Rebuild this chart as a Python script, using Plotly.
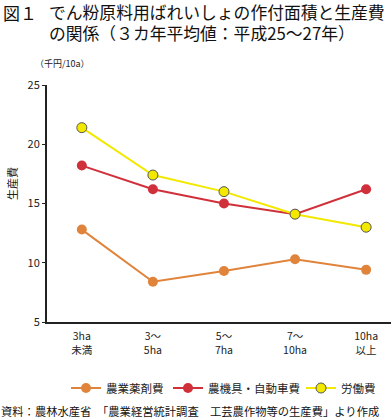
import plotly.graph_objects as go

categories = ["3ha<br>未満", "3～<br>5ha", "5～<br>7ha", "7～<br>10ha", "10ha<br>以上"]
pesticide = [12.8, 8.4, 9.3, 10.3, 9.4]
machinery = [18.2, 16.2, 15.0, 14.1, 16.2]
labor = [21.4, 17.4, 16.0, 14.1, 13.0]

FONT = "Noto Sans CJK JP"
xs = list(range(len(categories)))

# plot area in pixels
L, R, T, B = 47, 391, 85, 322
def px(x):
    return (x - L) / (R - L)
def py(y):
    return (B - y) / (B - T)

fig = go.Figure()
fig.add_trace(go.Scatter(x=xs, y=pesticide, name="農業薬剤費", mode="lines+markers",
                         line=dict(color="#E0843C", width=2),
                         marker=dict(color="#E0843C", size=10), legend="legend"))
fig.add_trace(go.Scatter(x=xs, y=machinery, name="農機具・自動車費", mode="lines+markers",
                         line=dict(color="#D0303A", width=2),
                         marker=dict(color="#D0303A", size=10), legend="legend2"))
fig.add_trace(go.Scatter(x=xs, y=labor, name="労働費", mode="lines+markers",
                         line=dict(color="#F2E800", width=2),
                         marker=dict(color="#F2E800", size=10, line=dict(color="#555555", width=1)),
                         legend="legend3"))

def leg(text_x):
    return dict(orientation="h", x=px(text_x - 41), xanchor="left", y=py(388), yanchor="middle",
                font=dict(size=11.5, family=FONT, color="#222222"), itemwidth=30,
                bgcolor="rgba(0,0,0,0)", borderwidth=0)

fig.update_layout(
    width=391, height=418,
    margin=dict(l=L, r=391 - R, t=T, b=418 - B),
    paper_bgcolor="white", plot_bgcolor="white",
    font=dict(family=FONT, color="#222222", size=11),
    showlegend=True,
    legend=leg(107), legend2=leg(209), legend3=leg(342),
    xaxis=dict(range=[-0.49, 4.35], tickvals=xs, ticktext=categories,
               showgrid=False, zeroline=False, showline=True, linecolor="#222222", linewidth=1.5,
               ticks="", ticklabelstandoff=4, tickfont=dict(size=10.5, family=FONT)),
    yaxis=dict(range=[5, 25], dtick=5, showgrid=False, zeroline=False,
               showline=True, linecolor="#222222", linewidth=2,
               ticks="outside", ticklen=3, tickcolor="#222222",
               tickfont=dict(size=11, family=FONT)),
)

anns = []
anns.append(dict(text="図１", x=px(1), y=py(12), xref="paper", yref="paper",
                 xanchor="left", yanchor="middle", showarrow=False, align="left",
                 font=dict(size=17, family=FONT, color="#111111")))
anns.append(dict(text="でん粉原料用ばれいしょの作付面積と生産費", x=px(47), y=py(12),
                 xref="paper", yref="paper", xanchor="left", yanchor="middle",
                 showarrow=False, font=dict(size=16.8, family=FONT, color="#111111")))
anns.append(dict(text="の関係（３カ年平均値：平成25～27年）", x=px(47), y=py(33),
                 xref="paper", yref="paper", xanchor="left", yanchor="middle",
                 showarrow=False, font=dict(size=16.8, family=FONT, color="#111111")))
anns.append(dict(text="（千円/10a）", x=px(33), y=py(63), xref="paper", yref="paper",
                 xanchor="left", yanchor="middle", showarrow=False,
                 font=dict(size=9, family=FONT, color="#222222")))
anns.append(dict(text="生産費", x=px(12), y=py(184), xref="paper", yref="paper",
                 xanchor="center", yanchor="middle", showarrow=False, textangle=-90,
                 font=dict(size=11, family=FONT, color="#222222")))
anns.append(dict(text="資料：農林水産省　「農業経営統計調査　工芸農作物等の生産費」より作成",
                 x=px(-1), y=py(411), xref="paper", yref="paper",
                 xanchor="left", yanchor="middle", showarrow=False,
                 font=dict(size=11.3, family=FONT, color="#111111")))

fig.update_layout(annotations=anns)
fig.write_html("out.html", config={"displayModeBar": False},
               post_script="document.body.style.margin='0';")
